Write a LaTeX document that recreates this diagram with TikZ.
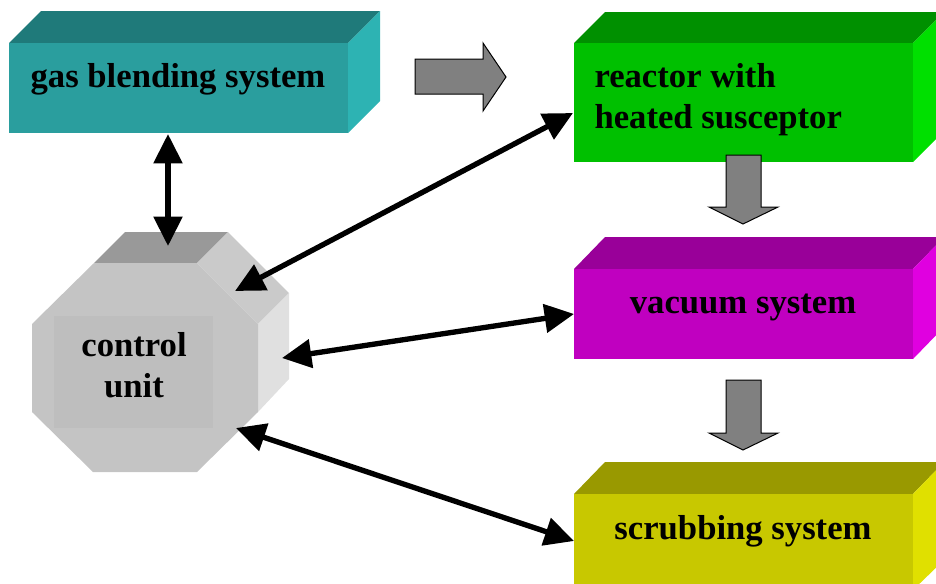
\documentclass[tikz,border=0pt]{standalone}
\usepackage{fontspec}
\setmainfont{Liberation Serif}
\usetikzlibrary{arrows.meta}

\tikzset{every picture/.style={line width=0.75pt}}
\tikzset{boxtext/.style={font=\fontsize{26}{31}\selectfont\bfseries, inner sep=0pt},
  dblarrow/.style={line width=4pt, {Triangle[length=22pt,width=21pt]}-{Triangle[length=22pt,width=21pt]}},
  blockarrow/.style={fill={rgb, 255:red, 128; green, 128; blue, 128 }, draw=black, line width=0.75pt, line join=miter}}

\begin{document}
\begin{tikzpicture}[x=0.75pt,y=0.75pt,yscale=-1,xscale=1]
\useasboundingbox (0,0) rectangle (936,583);
\clip (0,0) rectangle (936,583);

%Shape: Cube [gas blending]
\fill [color={rgb, 255:red, 31; green, 122; blue, 122 }] (9,43) -- (41,11) -- (380,11) -- (348,43) -- cycle ;
\fill [color={rgb, 255:red, 45; green, 179; blue, 179 }] (348,43) -- (380,11) -- (380,101) -- (348,133) -- cycle ;
\fill [color={rgb, 255:red, 42; green, 158; blue, 158 }] (9,43) rectangle (348,133) ;
%Shape: Cube [reactor]
\fill [color={rgb, 255:red, 0; green, 144; blue, 0 }] (574,43) -- (605,12) -- (944,12) -- (913,43) -- cycle ;
\fill [color={rgb, 255:red, 0; green, 224; blue, 0 }] (913,43) -- (944,12) -- (944,131) -- (913,162) -- cycle ;
\fill [color={rgb, 255:red, 0; green, 192; blue, 0 }] (574,43) rectangle (913,162) ;
%Shape: Cube [vacuum]
\fill [color={rgb, 255:red, 153; green, 0; blue, 153 }] (574,269) -- (605,237) -- (944,237) -- (913,269) -- cycle ;
\fill [color={rgb, 255:red, 224; green, 0; blue, 224 }] (913,269) -- (944,237) -- (944,327) -- (913,359) -- cycle ;
\fill [color={rgb, 255:red, 192; green, 0; blue, 192 }] (574,269) rectangle (913,359) ;
%Shape: Cube [scrubbing]
\fill [color={rgb, 255:red, 153; green, 153; blue, 0 }] (574,494) -- (605,462) -- (944,462) -- (913,494) -- cycle ;
\fill [color={rgb, 255:red, 224; green, 224; blue, 0 }] (913,494) -- (944,462) -- (944,560) -- (913,590) -- cycle ;
\fill [color={rgb, 255:red, 200; green, 200; blue, 0 }] (574,494) rectangle (913,590) ;

%Shape: Octagonal prism [control unit]
\fill [color={rgb, 255:red, 153; green, 153; blue, 153 }] (94,263) -- (125,232) -- (228,232) -- (197,263) -- cycle ;
\fill [color={rgb, 255:red, 202; green, 202; blue, 202 }] (197,263) -- (228,232) -- (289,293) -- (258,324) -- cycle ;
\fill [color={rgb, 255:red, 224; green, 224; blue, 224 }] (258,324) -- (289,293) -- (289,379) -- (258,412) -- cycle ;
\fill [color={rgb, 255:red, 196; green, 196; blue, 196 }] (94,263) -- (197,263) -- (258,324) -- (258,412) -- (197,472) -- (93,472) -- (32,412) -- (32,324) -- cycle ;
\fill [color={rgb, 255:red, 190; green, 190; blue, 190 }] (54,316) rectangle (213,428) ;

%Right Arrow
\draw [blockarrow] (415,59) -- (483,59) -- (483,43) -- (506,77) -- (483,111) -- (483,94) -- (415,94) -- cycle ;
%Down Arrow
\draw [blockarrow] (726,155) -- (761,155) -- (761,207) -- (778,207) -- (743,224) -- (709,207) -- (726,207) -- cycle ;
%Down Arrow
\draw [blockarrow] (726,380) -- (761,380) -- (761,433) -- (778,433) -- (743,450) -- (709,433) -- (726,433) -- cycle ;

% Text Node
\node [boxtext, anchor=base] (gas) at (178,87) {gas blending system};
% Text Node
\node [boxtext, anchor=north west, align=left] (reactor) at (594,63) {reactor with\\heated susceptor};
% Text Node
\node [boxtext, anchor=base] (vacuum) at (743,313) {vacuum system};
% Text Node
\node [boxtext, anchor=base] (scrubbing) at (743,539) {scrubbing system};
% Text Node
\node [boxtext, anchor=north, align=center] (control) at (134,332) {control\\unit};

% arrow ends
\coordinate (gasS) at (168,134);
\coordinate (ctlN) at (168,246);
\coordinate (reactorW) at (573,113);
\coordinate (ctlNE) at (235,291);
\coordinate (vacuumW) at (574,314);
\coordinate (ctlE) at (282,358);
\coordinate (scrubbingW) at (574,541);
\coordinate (ctlSE) at (236,428);

%Straight Lines
\draw [dblarrow] (gasS) -- (ctlN) ;
\draw [dblarrow] (ctlNE) -- (reactorW) ;
\draw [dblarrow] (ctlE) -- (vacuumW) ;
\draw [dblarrow] (ctlSE) -- (scrubbingW) ;

\end{tikzpicture}
\end{document}
